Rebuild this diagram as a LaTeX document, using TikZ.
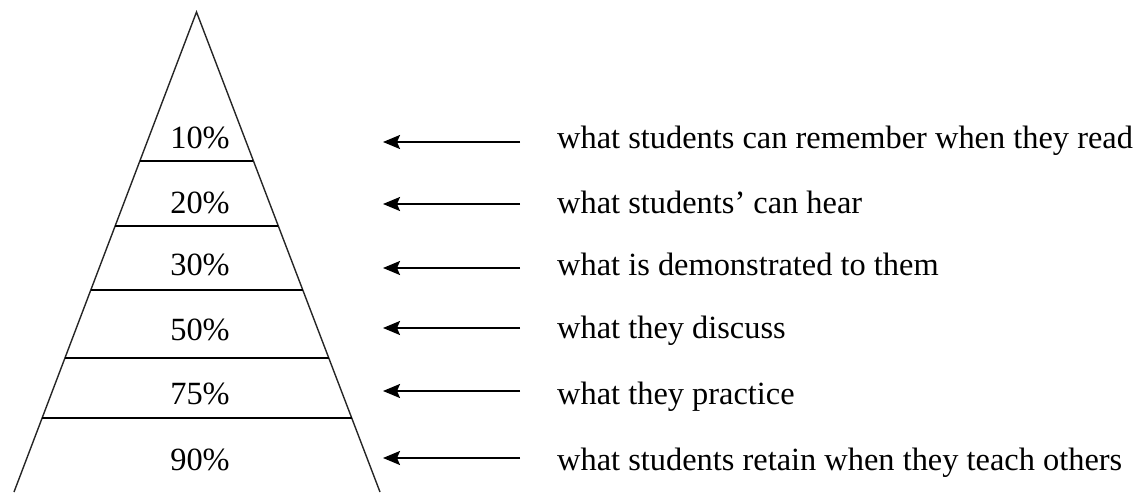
\documentclass[tikz,border=0pt]{standalone}
\usepackage{fontspec}
\setmainfont{Liberation Serif}
\usetikzlibrary{calc,arrows.meta}
\begin{document}
\begin{tikzpicture}[x=1pt,y=-1pt,
  edge/.style={line width=1.4pt,draw=black!85},
  tier/.style={line width=1.6pt,draw=black},
  pct/.style={anchor=base,inner sep=0pt,font=\fontsize{32.4}{38}\selectfont},
  desc/.style={anchor=base west,inner sep=0pt,font=\fontsize{32.4}{38}\selectfont},
  arr/.style={line width=1.9pt,-{Stealth[length=17pt,width=14pt,inset=3pt]}}]
\useasboundingbox (0,0) rectangle (1139,492);
\coordinate (apex) at (196.5,12);
\coordinate (bl) at (14,492);
\coordinate (br) at (380,492);
\draw[edge] (bl) -- (apex) -- (br);
\foreach \y/\n in {161/1,226/2,290/3,358/4,418/5}{
  \pgfmathsetmacro{\t}{(\y-12)/480}
  \draw[tier] ($(apex)!\t!(bl)$) -- ($(apex)!\t!(br)$);
}
\node[pct] (p1) at (200,148) {10\%};
\node[pct] (p2) at (200,213) {20\%};
\node[pct] (p3) at (200,275) {30\%};
\node[pct] (p4) at (200,340) {50\%};
\node[pct] (p5) at (200,404) {75\%};
\node[pct] (p6) at (200,470) {90\%};
\node[desc] (t1) at (557,148) {what students can remember when they read};
\node[desc] (t2) at (557,213) {what students’ can hear};
\node[desc] (t3) at (557,275) {what is demonstrated to them};
\node[desc] (t4) at (557,338) {what they discuss};
\node[desc] (t5) at (557,404) {what they practice};
\node[desc] (t6) at (557,470) {what students retain when they teach others};
\foreach \y/\n in {142/1,204/2,268/3,328/4,391/5,458/6}{
  \coordinate (s\n) at (520,\y);
  \coordinate (e\n) at (383,\y);
  \draw[arr] (s\n) -- (e\n);
}
\end{tikzpicture}
\end{document}
